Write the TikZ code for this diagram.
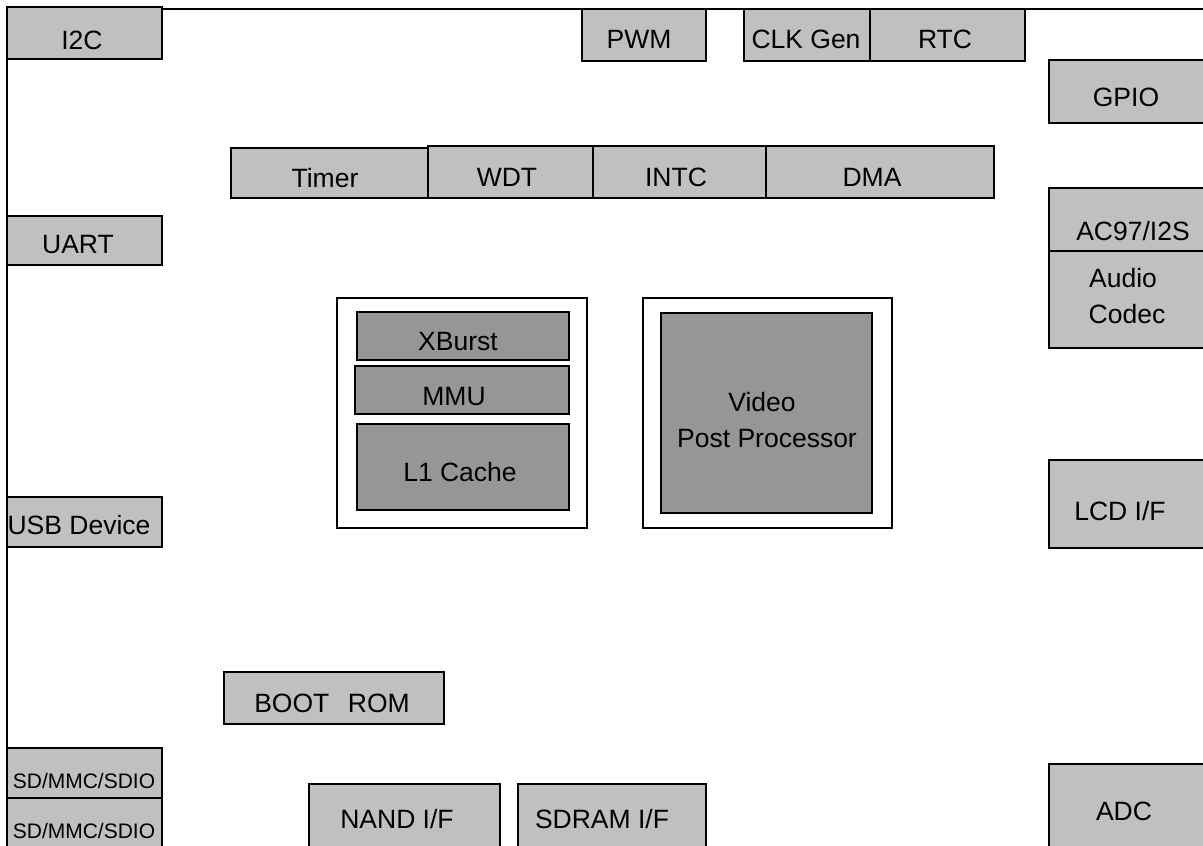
\documentclass[tikz,border=0pt]{standalone}
\usepackage{fontspec}
\setmainfont{Liberation Sans}
\definecolor{blkgray}{RGB}{192,192,192}
\definecolor{coregray}{RGB}{150,150,150}
\newcommand\blk[6]{\node[#6, minimum width={#4-#2}, minimum height={#5-#3}] (#1) at (#2,#3) {};}
\tikzset{
  base/.style={draw=black, line width=1.2pt, inner sep=0pt, outer sep=0pt, anchor=north west, rectangle},
  box/.style={base, fill=blkgray},
  core/.style={base, fill=coregray},
  hold/.style={base, fill=white},
  lbl/.style={anchor=base, inner sep=0pt, font=\fontsize{26.5}{31}\selectfont},
  small/.style={anchor=base, inner sep=0pt, font=\fontsize{21}{25}\selectfont},
}
\begin{document}
\begin{tikzpicture}[x=1pt, y=-1pt]
\useasboundingbox (0,0) rectangle (1203,846);
\clip (0,0) rectangle (1203,846);
\fill[white] (0,0) rectangle (1203,846);
% frame
\coordinate (ftr) at (1210,9);
\coordinate (ftl) at (7,9);
\coordinate (fbl) at (7,850);
\draw[line width=1.4pt] (fbl) -- (ftl) -- (ftr);
% left column
\blk{i2c}{7}{7}{162}{59}{box}
\blk{uart}{7}{216}{162}{265}{box}
\blk{usb}{7}{497}{162}{547}{box}
\blk{sd1}{7}{748}{162}{798}{box}
\blk{sd2}{7}{798}{162}{852}{box}
% top row
\blk{pwm}{582}{9}{706}{61}{box}
\blk{clk}{744}{9}{870}{61}{box}
\blk{rtc}{870}{9}{1025}{61}{box}
% bus row
\blk{timer}{231}{148}{428}{198}{box}
\blk{wdt}{428}{146}{593}{198}{box}
\blk{intc}{593}{146}{766}{198}{box}
\blk{dma}{766}{146}{994}{198}{box}
% right column
\blk{gpio}{1049}{60}{1212}{123}{box}
\blk{ac97}{1049}{188}{1212}{251}{box}
\blk{codec}{1049}{251}{1212}{348}{box}
\blk{lcd}{1049}{460}{1212}{548}{box}
\blk{adc}{1049}{764}{1212}{852}{box}
% bottom
\blk{boot}{224}{672}{444}{724}{box}
\blk{nand}{309}{784}{500}{852}{box}
\blk{sdram}{518}{784}{706}{852}{box}
% cpu
\blk{cpu}{337}{298}{587}{528}{hold}
\blk{xburst}{357}{312}{569}{360}{core}
\blk{mmu}{355}{366}{569}{414}{core}
\blk{l1}{357}{424}{569}{510}{core}
% video
\blk{vpo}{643}{298}{892}{528}{hold}
\blk{vpp}{661}{313}{872}{513}{core}
% labels
\node[lbl] (ti2c) at (82,49.5) {I2C};
\node[lbl] (tuart) at (78,253.5) {UART};
\node[lbl] (tusb) at (79,534.5) {USB Device};
\node[small] (tsd1) at (84,788.5) {SD/MMC/SDIO};
\node[small] (tsd2) at (84,838.5) {SD/MMC/SDIO};
\node[lbl] (tpwm) at (639,48.5) {PWM};
\node[lbl] (tclk) at (806,48.5) {CLK Gen};
\node[lbl] (trtc) at (945,48.5) {RTC};
\node[lbl] (ttimer) at (325,187) {Timer};
\node[lbl] (twdt) at (507,186.5) {WDT};
\node[lbl] (tintc) at (676,186.5) {INTC};
\node[lbl] (tdma) at (872,186.5) {DMA};
\node[lbl] (tgpio) at (1126,106.5) {GPIO};
\node[lbl] (tac97) at (1133,240.5) {AC97/I2S};
\node[lbl] (taudio) at (1123,287.5) {Audio};
\node[lbl] (tcodec) at (1127,323.5) {Codec};
\node[lbl] (tlcd) at (1120,520.5) {LCD I/F};
\node[lbl] (tadc) at (1124,820.5) {ADC};
\node[lbl] (tboot) at (332,712.5) {BOOT\hspace{0.7em}ROM};
\node[lbl] (tnand) at (397,828.5) {NAND I/F};
\node[lbl] (tsdram) at (602,828.5) {SDRAM I/F};
\node[lbl] (txburst) at (458,350.5) {XBurst};
\node[lbl] (tmmu) at (454,405.5) {MMU};
\node[lbl] (tl1) at (460,481.5) {L1 Cache};
\node[lbl] (tvideo) at (762,411.5) {Video};
\node[lbl] (tpost) at (767,447.5) {Post Processor};
\end{tikzpicture}
\end{document}
